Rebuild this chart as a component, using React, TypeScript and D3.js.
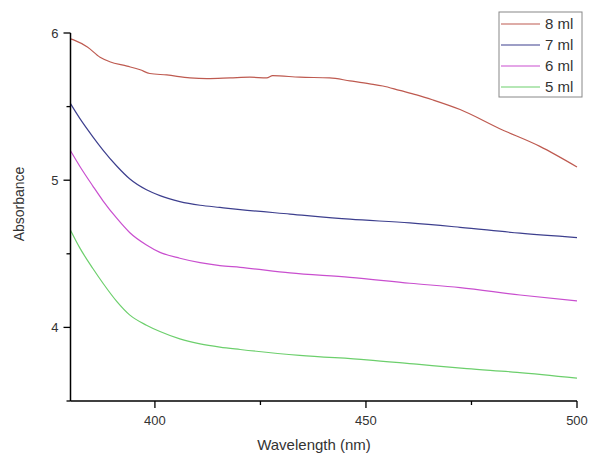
import React from "react";
import * as d3 from "d3";

// absorbance spectra: [wavelength nm, absorbance]
const ml8: [number, number][] = [
  [380, 5.96], [381, 5.95], [384, 5.905], [387, 5.835], [389.3, 5.805], [393.4, 5.775],
  [396.5, 5.75], [398.8, 5.725], [402.8, 5.715], [408.3, 5.695], [412.3, 5.69],
  [417.8, 5.695], [422.5, 5.7], [426.5, 5.695], [427.9, 5.71], [434.3, 5.7],
  [441.4, 5.695], [446.2, 5.675], [450.9, 5.655], [454, 5.64], [458, 5.61],
  [462, 5.58], [465.9, 5.545], [472.3, 5.48], [481.7, 5.35], [491.2, 5.23], [500, 5.09],
];
const ml7: [number, number][] = [
  [380, 5.52], [382.2, 5.42], [385.3, 5.295], [387.7, 5.205], [391, 5.095], [394, 5.01],
  [398, 4.935], [401.2, 4.895], [405.9, 4.855], [410.7, 4.83], [415.4, 4.815], [420.2, 4.8],
  [432, 4.77], [446.2, 4.735], [460.4, 4.71], [472.3, 4.68], [486.5, 4.64], [500, 4.61],
];
const ml6: [number, number][] = [
  [380, 5.2], [382.2, 5.095], [385.3, 4.96], [387.7, 4.86], [391, 4.74], [394, 4.645],
  [398, 4.56], [401.2, 4.51], [405.9, 4.47], [410.7, 4.44], [415.4, 4.42], [420.2, 4.408],
  [432, 4.37], [446.2, 4.34], [460.4, 4.3], [472.3, 4.27], [486.5, 4.22], [500, 4.18],
];
const ml5: [number, number][] = [
  [380, 4.66], [382.2, 4.54], [385.3, 4.4], [387.7, 4.3], [391, 4.175], [394, 4.085],
  [398, 4.015], [401.2, 3.972], [405.9, 3.922], [410.7, 3.888], [415.4, 3.866], [420.2, 3.85],
  [434.3, 3.81], [450.2, 3.78], [462, 3.75], [473.9, 3.72], [485.8, 3.695], [500, 3.655],
];

const seriesNames = ["8 ml", "7 ml", "6 ml", "5 ml"];
const seriesData = [ml8, ml7, ml6, ml5];
const colors = ["#be5a50", "#3d3f8e", "#c94fcf", "#6ccf6c"];

const xMajor = [400, 450, 500];
const xMinor = [425, 475];
const yMajor = [4, 5, 6];
const yMinor = [3.5, 4.5, 5.5];

const W = 590;
const H = 455;
const font = "Arial, 'Liberation Sans', sans-serif";

export default function App() {
  const x = d3.scaleLinear().domain([380, 500]).range([70.5, 577]);
  const y = d3.scaleLinear().domain([3.5, 6]).range([401, 33]);
  const line = d3
    .line<[number, number]>()
    .x((d) => x(d[0]))
    .y((d) => y(d[1]))
    .curve(d3.curveMonotoneX);

  const legendX = 499;
  const legendY = 12;

  return (
    <svg
      width={W}
      height={H}
      style={{ position: "absolute", left: 0, top: 0, background: "#fff" }}
      fontFamily={font}
    >
      {/* curves */}
      {seriesData.map((s, i) => (
        <path key={i} d={line(s) || ""} fill="none" stroke={colors[i]} strokeWidth={1.2} />
      ))}

      {/* axes */}
      <line x1={x(380)} x2={x(380)} y1={y(6)} y2={y(3.5)} stroke="#000" strokeWidth={1.5} />
      <line x1={x(380)} x2={x(500)} y1={y(3.5)} y2={y(3.5)} stroke="#000" strokeWidth={1.5} />

      {yMajor.map((v) => (
        <g key={v}>
          <line x1={x(380) - 7} x2={x(380)} y1={y(v)} y2={y(v)} stroke="#000" strokeWidth={1.3} />
          <text x={x(380) - 12} y={y(v)} dy="0.35em" textAnchor="end" fontSize={13} fill="#333">
            {v}
          </text>
        </g>
      ))}
      {yMinor.map((v) => (
        <line key={v} x1={x(380) - 4} x2={x(380)} y1={y(v)} y2={y(v)} stroke="#000" strokeWidth={1.3} />
      ))}

      {xMajor.map((v) => (
        <g key={v}>
          <line x1={x(v)} x2={x(v)} y1={y(3.5)} y2={y(3.5) + 7} stroke="#000" strokeWidth={1.3} />
          <text x={x(v)} y={y(3.5) + 24} textAnchor="middle" fontSize={13} fill="#333">
            {v}
          </text>
        </g>
      ))}
      {xMinor.map((v) => (
        <line key={v} x1={x(v)} x2={x(v)} y1={y(3.5)} y2={y(3.5) + 4} stroke="#000" strokeWidth={1.3} />
      ))}

      <text x={314} y={450} textAnchor="middle" fontSize={15} fill="#333">
        Wavelength (nm)
      </text>
      <text
        transform={`translate(24, 204) rotate(-90)`}
        textAnchor="middle"
        fontSize={14}
        fill="#333"
      >
        Absorbance
      </text>

      {/* legend */}
      <rect x={legendX} y={legendY} width={83} height={85} fill="#fff" stroke="#888" strokeWidth={1} />
      {seriesNames.map((n, i) => (
        <g key={n}>
          <line
            x1={legendX + 2}
            x2={legendX + 41}
            y1={legendY + 12 + i * 21}
            y2={legendY + 12 + i * 21}
            stroke={colors[i]}
            strokeWidth={1.2}
          />
          <text x={legendX + 46} y={legendY + 12 + i * 21} dy="0.36em" fontSize={15} fill="#333">
            {n}
          </text>
        </g>
      ))}
    </svg>
  );
}
